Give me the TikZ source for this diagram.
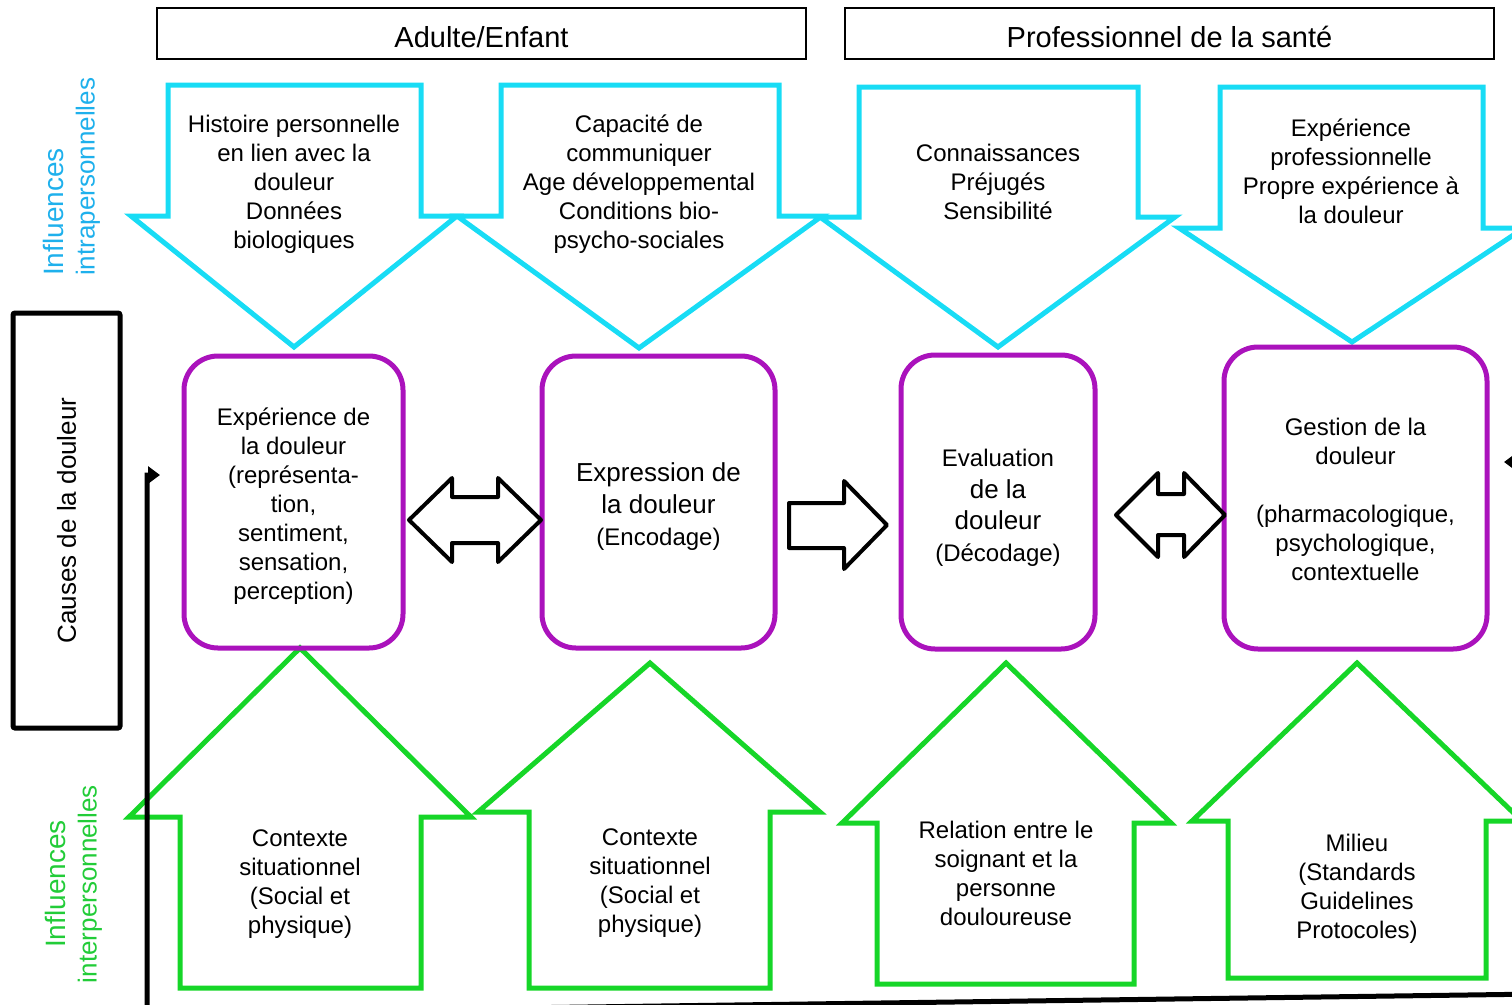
\documentclass[tikz,border=0pt]{standalone}
\usepackage{fontspec}
\setmainfont{Liberation Sans}
\usetikzlibrary{arrows.meta}
\definecolor{intra}{RGB}{24,220,245}
\definecolor{intratext}{RGB}{30,176,236}
\definecolor{inter}{RGB}{22,214,40}
\definecolor{intertext}{RGB}{34,204,56}
\definecolor{stage}{RGB}{170,18,188}
\begin{document}
\begin{tikzpicture}[x=1pt,y=-1pt,
        txt/.style={inner sep=0pt,align=center,font=\fontsize{24}{29}\selectfont},
        header/.style={draw,line width=1.5pt,minimum width=649pt,minimum height=51pt,inner sep=0pt,text height=27pt,text depth=0pt,font=\fontsize{29}{34}\selectfont},
        stagebox/.style={draw=stage,line width=5pt,rounded corners=34pt,inner sep=0pt,align=center,font=\fontsize{24}{29}\selectfont},
        causebox/.style={draw,line width=5pt,rounded corners=2pt,inner sep=0pt,rotate=90,font=\fontsize{26}{31}\selectfont},
        intraarrow/.style={draw=intra,line width=5pt},
        interarrow/.style={draw=inter,line width=5pt},
        blockarrow/.style={draw=black,line width=4pt,line join=round},
        loopline/.style={line width=5pt,>={Triangle[length=12pt,width=17pt]},<->}]
            \clip (0,0) rectangle (1512,1004);
            \node[header] (adult) at (481.5,33.5) {Adulte/Enfant};
            \node[header] (pro) at (1169.5,33.5) {Professionnel de la santé};
            \node[inner sep=0pt,rotate=90,anchor=west,text=intratext,font=\fontsize{28}{34}\selectfont] (intraA) at (53,276) {Influences};
            \node[inner sep=0pt,rotate=90,anchor=west,text=intratext,font=\fontsize{26}{31}\selectfont] (intraB) at (88,276) {intrapersonnelles};
            \node[inner sep=0pt,rotate=90,text=intertext,font=\fontsize{28}{34}\selectfont] (interA) at (55,884) {Influences};
            \node[inner sep=0pt,rotate=90,text=intertext,font=\fontsize{26}{31}\selectfont] (interB) at (90,884) {interpersonnelles};
            \node[causebox,minimum width=415pt,minimum height=107pt] (causes) at (66.5,520.5) {Causes de la douleur};
            \draw[intraarrow] (168,85) -- (421,85) -- (421,216) -- (457,216) -- (294,347) -- (131,216) -- (168,216) -- cycle;
            \draw[intraarrow] (501,85) -- (779,85) -- (779,216) -- (822,216) -- (639,348) -- (457,216) -- (501,216) -- cycle;
            \draw[intraarrow] (859,87) -- (1138,87) -- (1138,217) -- (1175,217) -- (998,347) -- (820,217) -- (859,217) -- cycle;
            \draw[intraarrow] (1220,87) -- (1483,87) -- (1483,228) -- (1524,228) -- (1352,342) -- (1179,228) -- (1220,228) -- cycle;
            \node[txt] (hist) at (294,184) {Histoire personnelle\\en lien avec la\\douleur\\Données\\biologiques};
            \node[txt] (comm) at (639,184) {Capacité de\\communiquer\\Age développemental\\Conditions bio-\\psycho-sociales};
            \node[txt] (conn) at (998,182) {Connaissances\\Préjugés\\Sensibilité};
            \node[txt] (expro) at (1351,171) {Expérience\\professionnelle\\Propre expérience à\\la douleur};
            \draw[interarrow] (300,648) -- (471,817) -- (421,817) -- (421,988) -- (180,988) -- (180,817) -- (129,817) -- cycle;
            \draw[interarrow] (650,663) -- (820,812) -- (770,812) -- (770,988) -- (529,988) -- (529,812) -- (478,812) -- cycle;
            \draw[interarrow] (1006,663) -- (1171,823) -- (1134,823) -- (1134,984) -- (877,984) -- (877,823) -- (842,823) -- cycle;
            \draw[interarrow] (1357,663) -- (1522,821) -- (1486,821) -- (1486,978) -- (1228,978) -- (1228,821) -- (1192,821) -- cycle;
            \node[txt] (ctxA) at (300,884) {Contexte\\situationnel\\(Social et\\physique)};
            \node[txt] (ctxB) at (650,883) {Contexte\\situationnel\\(Social et\\physique)};
            \node[txt] (rel) at (1006,873) {Relation entre le\\soignant et la\\personne\\douloureuse};
            \node[txt] (milieu) at (1357,889) {Milieu\\(Standards\\Guidelines\\Protocoles)};
            \node[stagebox,minimum width=219pt,minimum height=292pt] (exp) at (293.5,502) {\rule{0pt}{26pt}Expérience de\\la douleur\\(représenta-\\tion,\\sentiment,\\sensation,\\perception)};
            \node[stagebox,minimum width=233pt,minimum height=292pt,font=\fontsize{26}{32}\selectfont] (expr) at (658.5,502) {\rule{0pt}{27pt}Expression de\\la douleur\\{\fontsize{24}{32}\selectfont(Encodage)}};
            \node[stagebox,minimum width=194pt,minimum height=294pt,font=\fontsize{26}{31.5}\selectfont] (eval) at (998,502) {\rule{0pt}{29pt}{\fontsize{24}{31.5}\selectfont Evaluation}\\de la\\douleur\\{\fontsize{24}{31.5}\selectfont(Décodage)}};
            \node[stagebox,minimum width=263pt,minimum height=302pt] (gest) at (1355.5,498) {\rule{0pt}{21pt}Gestion de la\\douleur\\[29pt](pharmacologique,\\psychologique,\\contextuelle};
            \draw[blockarrow] (409,520) -- (452,478) -- (452,497) -- (498,497) -- (498,478) -- (541,520) -- (498,562) -- (498,543) -- (452,543) -- (452,562) -- cycle;
            \draw[blockarrow] (789,503) -- (844,503) -- (844,481) -- (887,525) -- (844,569) -- (844,548) -- (789,548) -- cycle;
            \draw[blockarrow] (1116,515) -- (1158,473) -- (1158,494) -- (1184,494) -- (1184,473) -- (1225,515) -- (1184,557) -- (1184,535) -- (1158,535) -- (1158,557) -- cycle;
            \coordinate (backL) at (160,475);
            \coordinate (backR) at (1504,462);
            \draw[loopline] (backR) -- (1540,462) -- (1540,994) -- (147,1013) -- (147,475) -- (backL);
        \end{tikzpicture}
\end{document}
